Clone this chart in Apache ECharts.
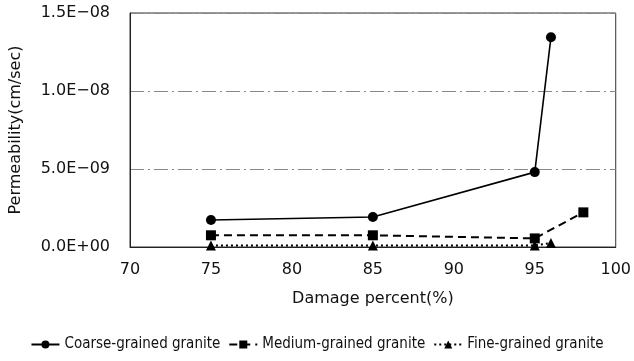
<!DOCTYPE html>
<html><head><meta charset="utf-8">
<script src="https://cdn.jsdelivr.net/npm/echarts@6/dist/echarts.min.js"></script>
<style>html,body{margin:0;padding:0;background:#fff}#c{width:634px;height:361px}</style>
</head><body><div id="c"></div>
<script>
const seriesNames = ["Coarse-grained granite", "Medium-grained granite", "Fine-grained granite"];
const coarseX = [75, 85, 95, 96];
const coarseY = [1.73e-9, 1.92e-9, 4.8e-9, 1.345e-8];
const mediumX = [75, 85, 95, 98];
const mediumY = [7.5e-10, 7.5e-10, 5.5e-10, 2.22e-9];
const fineX = [75, 85, 95, 96];
const fineY = [1e-10, 1e-10, 1e-10, 2.5e-10];
const xTitle = "Damage percent(%)";
const yTitle = "Permeability(cm/sec)";

function pairs(xs, ys) { return xs.map((x, i) => [x, ys[i]]); }
function fmtE(v) {
  let s = Number(v).toExponential(1).toUpperCase();
  return s.replace(/E([+-])(\d)$/, 'E$10$2').replace('E-', 'E−');
}
const font = '"DejaVu Sans", sans-serif';
const legendFont = '"DejaVu Sans Condensed", "DejaVu Sans", sans-serif';
const chart = echarts.init(document.getElementById('c'), null, {renderer: 'canvas'});
chart.setOption({
  animation: false,
  backgroundColor: '#fff',
  grid: {left: 127, right: 16, top: 13, bottom: 114, show: true, borderColor: '#333', borderWidth: 1},
  legend: {
    bottom: 4, left: 'center', itemWidth: 28, itemHeight: 10, itemGap: 8,
    textStyle: {fontFamily: legendFont, fontSize: 15, color: '#111'},
    data: seriesNames
  },
  xAxis: {
    type: 'value', min: 70, max: 100, interval: 5,
    name: xTitle, nameLocation: 'middle', nameGap: 44,
    nameTextStyle: {fontFamily: font, fontSize: 16, color: '#111'},
    axisLine: {show: true, lineStyle: {color: '#222'}},
    axisTick: {show: false},
    splitLine: {show: false},
    axisLabel: {fontFamily: font, fontSize: 16, color: '#111', margin: 15}
  },
  yAxis: {
    type: 'value', min: 0, max: 1.5e-8, interval: 5e-9,
    name: yTitle, nameLocation: 'middle', nameGap: 106,
    nameTextStyle: {fontFamily: font, fontSize: 16, color: '#111'},
    axisLine: {show: true, lineStyle: {color: '#222'}},
    axisTick: {show: false},
    splitLine: {show: true, lineStyle: {color: '#888', type: [14, 4, 2, 4], width: 1}},
    axisLabel: {fontFamily: font, fontSize: 16, color: '#111', margin: 20, formatter: fmtE}
  },
  series: [
    {name: seriesNames[0], type: 'line', data: pairs(coarseX, coarseY),
     symbol: 'circle', symbolSize: 10, itemStyle: {color: '#000'},
     lineStyle: {color: '#000', width: 1.6, type: 'solid'}},
    {name: seriesNames[1], type: 'line', data: pairs(mediumX, mediumY),
     symbol: 'rect', symbolSize: 10, itemStyle: {color: '#000'},
     lineStyle: {color: '#000', width: 2, type: [8, 5]}},
    {name: seriesNames[2], type: 'line', data: pairs(fineX, fineY),
     symbol: 'triangle', symbolSize: 10, itemStyle: {color: '#000'},
     lineStyle: {color: '#000', width: 2, type: [2, 3]}}
  ]
});
</script></body></html>
